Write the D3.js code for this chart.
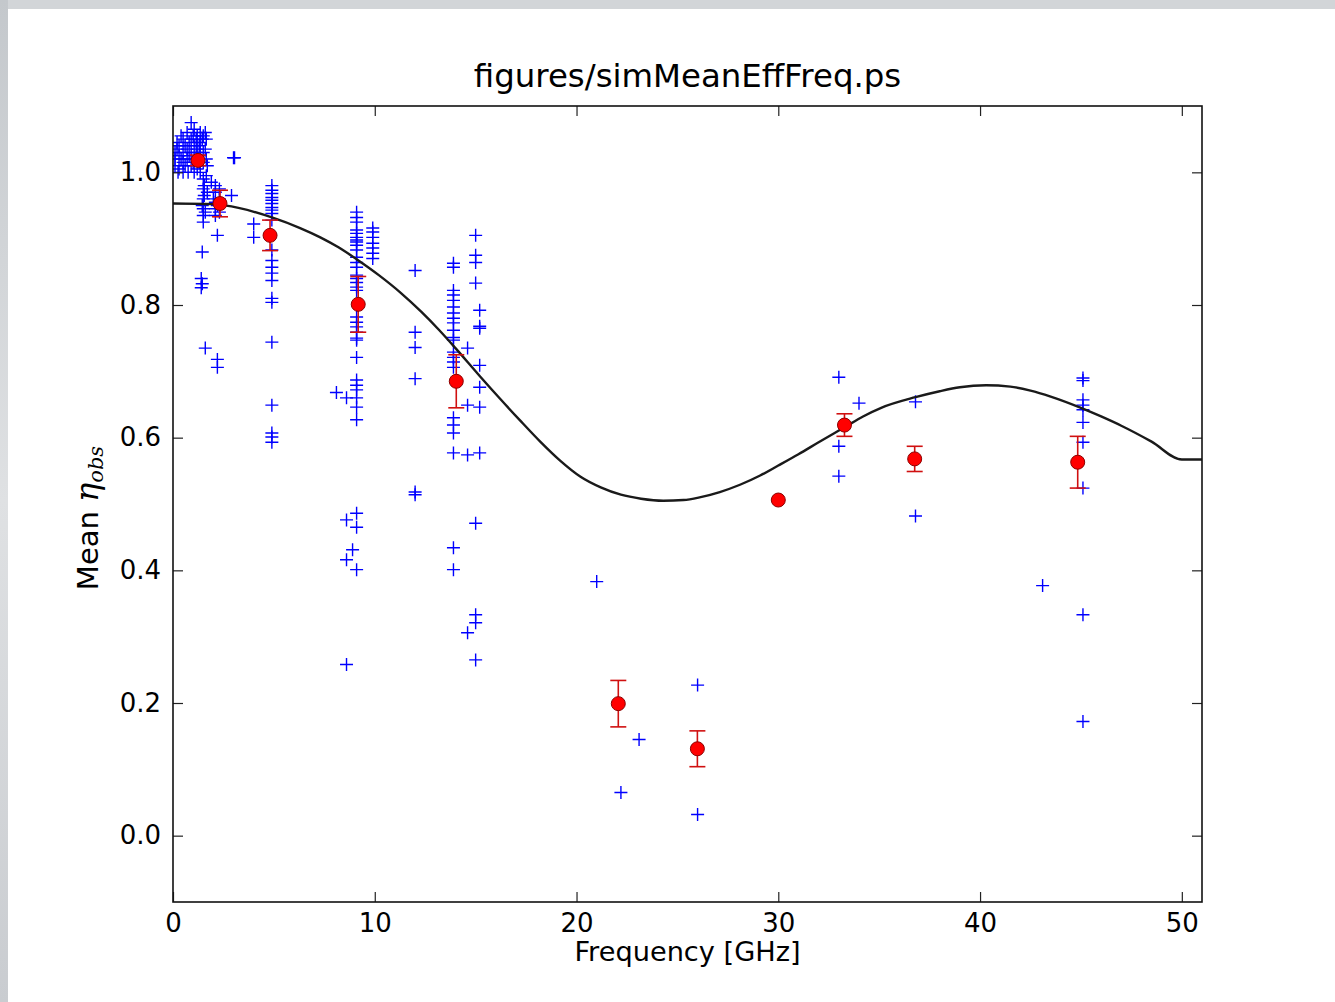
<!DOCTYPE html>
<html>
<head>
<meta charset="utf-8">
<script src="https://cdn.jsdelivr.net/npm/d3@7"></script>
<style>
  body { margin: 0; background: #fff; }
  svg { display: block; }
  text { font-family: "DejaVu Sans", sans-serif; fill: #000; }
</style>
</head>
<body>
<div id="chart"></div>
<script>
// simulated efficiencies, one entry per '+' marker
var simFreq = [
  0.1, 0.1, 0.1, 0.3, 0.3, 0.3, 0.5, 0.5, 0.5, 0.5, 0.7, 0.7, 0.7,
  0.9, 0.9, 0.9, 0.9, 1.05, 1.05, 1.05, 1.05, 1.2, 1.2, 1.2,
  1.35, 1.35, 1.35, 1.35, 1.5, 1.5, 1.5, 1.5, 1.5, 1.5, 1.5, 1.5, 1.5,
  0.2, 0.2, 0.4, 0.4, 0.6, 0.6, 0.8, 0.8, 1.0, 1.0, 1.15, 1.15, 1.3, 1.3,
  1.45, 1.6, 1.6, 1.7, 0.25, 0.75,
  1.55, 1.55, 1.45, 1.6, 1.7, 1.9, 2.0, 2.2,
  1.45, 1.4, 1.45, 1.4, 1.6, 1.65, 1.65, 1.65,
  2.1, 2.1, 2.1, 2.1, 2.1, 2.3, 2.3, 2.3, 2.2, 2.2, 2.2,
  2.9, 3.0, 3.05, 4.0, 4.0,
  4.9, 4.9, 4.9, 4.9, 4.9, 4.9, 4.9, 4.9, 4.9, 4.9, 4.9,
  4.9, 4.9, 4.9, 4.9, 4.9, 4.9, 4.9, 4.9, 4.9, 4.9, 4.9,
  9.1, 9.1, 9.1, 9.1, 9.1, 9.1, 9.1, 9.1, 9.1, 9.1, 9.1, 9.1,
  9.1, 9.1, 9.1, 9.1, 9.1, 9.1, 9.1, 9.1, 9.1, 9.1, 9.1, 9.1,
  9.1, 9.1, 9.1, 9.1, 9.1, 9.1, 9.1, 9.1, 9.1, 9.1,
  8.6, 8.6, 8.6, 8.9, 8.1, 8.6,
  9.9, 9.9, 9.9, 9.9, 9.9, 9.9, 9.9,
  12.0, 12.0, 12.0, 12.0, 12.0, 12.0,
  13.9, 13.9, 13.9, 13.9, 13.9, 13.9, 13.9, 13.9, 13.9, 13.9, 13.9,
  13.9, 13.9, 13.9, 13.9, 13.9, 13.9, 13.9, 13.9, 13.9, 13.9, 13.9,
  14.6, 14.6, 14.6, 14.6,
  15.0, 15.0, 15.0, 15.0, 15.0, 15.0, 15.0, 15.0,
  15.2, 15.2, 15.2, 15.2, 15.2, 15.2, 15.2,
  21.0, 22.2, 23.1, 26.0, 26.0,
  33.0, 33.0, 33.0, 34.0, 36.8, 36.8, 43.1,
  45.1, 45.1, 45.1, 45.1, 45.1, 45.1, 45.1, 45.1, 45.1, 45.1
];
var simEta = [
  1.030, 1.020, 1.010, 1.040, 1.025, 1.005, 1.050, 1.030, 1.015, 1.000, 1.060, 1.035, 1.020,
  1.075, 1.050, 1.030, 1.010, 1.065, 1.040, 1.020, 1.000, 1.055, 1.035, 1.005,
  1.060, 1.045, 1.025, 1.000, 1.055, 1.030, 1.015, 0.990, 0.975, 0.960, 0.945, 0.935, 0.925,
  1.035, 1.045, 1.020, 1.055, 1.010, 1.040, 1.025, 1.045, 1.015, 1.055, 1.030, 1.050, 1.015, 1.040,
  1.050, 1.035, 1.060, 1.010, 1.000, 1.000,
  0.980, 0.965, 0.950, 0.940, 0.970, 0.985, 0.960, 0.950,
  0.880, 0.840, 0.832, 0.826, 0.735, 1.050, 1.020, 0.995,
  0.980, 0.970, 0.955, 0.945, 0.935, 0.975, 0.960, 0.940, 0.905, 0.718, 0.706,
  0.965, 1.022, 1.022, 0.922, 0.902,
  0.980, 0.973, 0.968, 0.962, 0.958, 0.953, 0.947, 0.943, 0.938, 0.928, 0.883,
  0.867, 0.857, 0.848, 0.837, 0.810, 0.804, 0.744, 0.649, 0.607, 0.601, 0.593,
  0.940, 0.932, 0.925, 0.913, 0.908, 0.902, 0.898, 0.895, 0.890, 0.883, 0.872, 0.864,
  0.857, 0.845, 0.840, 0.834, 0.827, 0.822, 0.782, 0.774, 0.767, 0.759, 0.750, 0.747,
  0.721, 0.687, 0.679, 0.672, 0.660, 0.646, 0.627, 0.486, 0.465, 0.401,
  0.476, 0.416, 0.258, 0.431, 0.668, 0.660,
  0.916, 0.910, 0.902, 0.893, 0.886, 0.878, 0.870,
  0.852, 0.759, 0.736, 0.689, 0.518, 0.514,
  0.863, 0.857, 0.822, 0.815, 0.807, 0.797, 0.788, 0.780, 0.773, 0.762, 0.751,
  0.747, 0.729, 0.721, 0.714, 0.706, 0.630, 0.619, 0.607, 0.577, 0.434, 0.401,
  0.735, 0.649, 0.574, 0.306,
  0.905, 0.875, 0.864, 0.833, 0.471, 0.333, 0.321, 0.265,
  0.792, 0.768, 0.765, 0.709, 0.676, 0.646, 0.577,
  0.383, 0.065, 0.145, 0.227, 0.032,
  0.691, 0.587, 0.542, 0.652, 0.654, 0.482, 0.377,
  0.690, 0.686, 0.657, 0.649, 0.642, 0.623, 0.593, 0.524, 0.333, 0.172
];

// mean per frequency, with error bars
var meanFreq = [1.24, 2.33, 4.81, 9.18, 14.04, 22.07, 25.99, 30.0, 33.28, 36.76, 44.84];
var meanEta = [1.018, 0.953, 0.905, 0.801, 0.685, 0.199, 0.131, 0.506, 0.619, 0.568, 0.563];
var meanErr = [0.008, 0.020, 0.023, 0.042, 0.040, 0.035, 0.027, 0.0, 0.017, 0.019, 0.039];

// model curve
var modelFreq = [0, 2, 3.3, 4.9, 6.3, 7.3, 8.2, 9.1, 10.2, 11.3, 12.3, 13.2, 14, 15.2, 16.2, 17.2,
  18.2, 19.2, 20.2, 21.2, 22.2, 23.2, 24.3, 25.3, 26.1, 27.1, 28.1, 29.1, 30, 31, 32, 33.3, 34.2,
  35.1, 36.8, 38, 39, 40.3, 41.5, 42.5, 43.5, 45, 46, 47, 48.5, 50, 51];
var modelEta = [0.953, 0.952, 0.946, 0.932, 0.916, 0.902, 0.887, 0.869, 0.845, 0.818, 0.790, 0.762,
  0.735, 0.693, 0.659, 0.626, 0.594, 0.565, 0.541, 0.525, 0.514, 0.508, 0.505, 0.506, 0.510, 0.518,
  0.529, 0.543, 0.558, 0.575, 0.593, 0.616, 0.632, 0.645, 0.661, 0.670, 0.676, 0.679, 0.677, 0.671,
  0.662, 0.645, 0.632, 0.618, 0.594, 0.567, 0.567];

var xTicks = [0, 10, 20, 30, 40, 50];
var yTicks = [0.0, 0.2, 0.4, 0.6, 0.8, 1.0];

var width = 1335,
  height = 1002,
  margin = {top: 106, right: 133, bottom: 100, left: 173},
  innerWidth = width - margin.left - margin.right,
  innerHeight = height - margin.top - margin.bottom;

var xScale = d3.scaleLinear().domain([0, 51]).range([0, innerWidth]);
var yScale = d3.scaleLinear().domain([-0.1, 1.1]).range([innerHeight, 0]);

var svg = d3.select("#chart").append("svg")
  .attr("width", width)
  .attr("height", height);

// grey window frame
var grad = svg.append("defs").append("linearGradient")
  .attr("id", "frame").attr("x1", 0).attr("x2", 0).attr("y1", 0).attr("y2", 1);
grad.append("stop").attr("offset", "0%").attr("stop-color", "#c4c8cc");
grad.append("stop").attr("offset", "50%").attr("stop-color", "#dfe1e3");
grad.append("stop").attr("offset", "100%").attr("stop-color", "#c9ccd0");
svg.append("rect").attr("width", width).attr("height", 9).attr("fill", "#d2d5d8");
svg.append("rect").attr("y", 0).attr("width", 8).attr("height", height).attr("fill", "url(#frame)");

var g = svg.append("g")
  .attr("transform", "translate(" + margin.left + "," + margin.top + ")");

g.append("defs").append("clipPath").attr("id", "plotclip")
  .append("rect").attr("width", innerWidth).attr("height", innerHeight);

var plot = g.append("g").attr("clip-path", "url(#plotclip)");

// '+' markers
var arm = 6.5;
plot.selectAll("path.sim")
  .data(d3.range(simFreq.length))
  .enter().append("path")
    .attr("class", "sim")
    .attr("d", function (i) {
      var cx = xScale(simFreq[i]), cy = yScale(simEta[i]);
      return "M" + (cx - arm) + "," + cy + "H" + (cx + arm) +
        "M" + cx + "," + (cy - arm) + "V" + (cy + arm);
    })
    .attr("stroke", "#0000ff")
    .attr("stroke-width", 1.4)
    .attr("fill", "none");

var line = d3.line()
  .x(function (d) { return xScale(d[0]); })
  .y(function (d) { return yScale(d[1]); })
  .curve(d3.curveMonotoneX);

plot.append("path")
  .datum(d3.zip(modelFreq, modelEta))
  .attr("d", line)
  .attr("fill", "none")
  .attr("stroke", "#1a1a1a")
  .attr("stroke-width", 2.4);

// error bars then mean dots
var means = d3.range(meanFreq.length);
var err = plot.selectAll("g.err").data(means).enter().append("g")
  .attr("class", "err")
  .attr("stroke", "#d01010")
  .attr("stroke-width", 1.6);
err.append("line")
  .attr("x1", function (i) { return xScale(meanFreq[i]); })
  .attr("x2", function (i) { return xScale(meanFreq[i]); })
  .attr("y1", function (i) { return yScale(meanEta[i] - meanErr[i]); })
  .attr("y2", function (i) { return yScale(meanEta[i] + meanErr[i]); });
[-1, 1].forEach(function (s) {
  err.filter(function (i) { return meanErr[i] > 0; }).append("line")
    .attr("x1", function (i) { return xScale(meanFreq[i]) - 8; })
    .attr("x2", function (i) { return xScale(meanFreq[i]) + 8; })
    .attr("y1", function (i) { return yScale(meanEta[i] + s * meanErr[i]); })
    .attr("y2", function (i) { return yScale(meanEta[i] + s * meanErr[i]); });
});

plot.selectAll("circle.mean")
  .data(means)
  .enter().append("circle")
    .attr("class", "mean")
    .attr("cx", function (i) { return xScale(meanFreq[i]); })
    .attr("cy", function (i) { return yScale(meanEta[i]); })
    .attr("r", 7)
    .attr("fill", "#ff0000")
    .attr("stroke", "#8b0000")
    .attr("stroke-width", 1);

// axes: ticks pointing inward on all four sides
var tickLen = 10;
function styleAxis(sel) {
  sel.select(".domain").remove();
  sel.selectAll(".tick line").attr("stroke", "#222").attr("stroke-width", 1.2);
  sel.selectAll(".tick text").attr("font-size", 26).attr("font-family", "DejaVu Sans, sans-serif");
}
function noLabels(sel) {
  sel.selectAll(".tick text").remove();
}

g.append("g")
  .attr("transform", "translate(0," + innerHeight + ")")
  .call(d3.axisBottom(xScale).tickValues(xTicks).tickFormat(d3.format("d"))
    .tickSizeInner(-tickLen).tickSizeOuter(0).tickPadding(12))
  .call(styleAxis);

g.append("g")
  .call(d3.axisTop(xScale).tickValues(xTicks)
    .tickSizeInner(-tickLen).tickSizeOuter(0))
  .call(styleAxis)
  .call(noLabels);

g.append("g")
  .call(d3.axisLeft(yScale).tickValues(yTicks).tickFormat(d3.format(".1f"))
    .tickSizeInner(-tickLen).tickSizeOuter(0).tickPadding(12))
  .call(styleAxis);

g.append("g")
  .attr("transform", "translate(" + innerWidth + ",0)")
  .call(d3.axisRight(yScale).tickValues(yTicks)
    .tickSizeInner(-tickLen).tickSizeOuter(0))
  .call(styleAxis)
  .call(noLabels);

g.append("rect")
  .attr("width", innerWidth)
  .attr("height", innerHeight)
  .attr("fill", "none")
  .attr("stroke", "#111")
  .attr("stroke-width", 1.6);

// labels
svg.append("text")
  .attr("x", margin.left + innerWidth / 2)
  .attr("y", 87)
  .attr("text-anchor", "middle")
  .attr("font-size", 32.4)
  .text("figures/simMeanEffFreq.ps");

svg.append("text")
  .attr("x", margin.left + innerWidth / 2)
  .attr("y", 961)
  .attr("text-anchor", "middle")
  .attr("font-size", 27.2)
  .text("Frequency [GHz]");

var yl = svg.append("text")
  .attr("transform", "translate(98,518) rotate(-90)")
  .attr("text-anchor", "middle")
  .attr("font-size", 29);
yl.append("tspan").text("Mean ");
yl.append("tspan")
  .attr("font-family", "DejaVu Serif, serif")
  .attr("font-style", "italic")
  .attr("font-size", 32)
  .text("η");
yl.append("tspan")
  .attr("font-family", "DejaVu Serif, serif")
  .attr("font-style", "italic")
  .attr("font-size", 21)
  .attr("dy", 5)
  .text("obs");
</script>
</body>
</html>
